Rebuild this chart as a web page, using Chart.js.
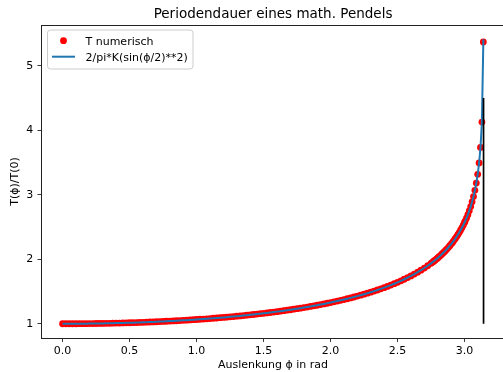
<!DOCTYPE html>
<html>
<head>
<meta charset="utf-8">
<script src="https://cdn.jsdelivr.net/npm/chart.js@4/dist/chart.umd.min.js"></script>
<style>
  html, body { margin: 0; padding: 0; overflow: hidden; background: #fff; }
  canvas { display: block; }
</style>
</head>
<body>
<canvas id="pendel" width="508" height="372"></canvas>
<script>
// Auslenkung phi (rad) und T(phi)/T(0)
const phi = [
  0, 0.025, 0.05, 0.075, 0.1, 0.125, 0.15, 0.175,
  0.2, 0.225, 0.25, 0.275, 0.3, 0.325, 0.35, 0.375,
  0.4, 0.425, 0.45, 0.475, 0.5, 0.525, 0.55, 0.575,
  0.6, 0.625, 0.65, 0.675, 0.7, 0.725, 0.75, 0.775,
  0.8, 0.825, 0.85, 0.875, 0.9, 0.925, 0.95, 0.975,
  1.0, 1.025, 1.05, 1.075, 1.1, 1.125, 1.15, 1.175,
  1.2, 1.225, 1.25, 1.275, 1.3, 1.325, 1.35, 1.375,
  1.4, 1.425, 1.45, 1.475, 1.5, 1.525, 1.55, 1.575,
  1.6, 1.625, 1.65, 1.675, 1.7, 1.725, 1.75, 1.775,
  1.8, 1.825, 1.85, 1.875, 1.9, 1.925, 1.95, 1.975,
  2.0, 2.025, 2.05, 2.075, 2.1, 2.125, 2.15, 2.175,
  2.2, 2.225, 2.25, 2.275, 2.3, 2.325, 2.35, 2.375,
  2.4, 2.425, 2.45, 2.475, 2.5, 2.525, 2.55, 2.575,
  2.6, 2.625, 2.65, 2.675, 2.7, 2.725, 2.75,
  2.76, 2.77, 2.78, 2.79, 2.8, 2.81, 2.82, 2.83,
  2.84, 2.85, 2.86, 2.87, 2.88, 2.89, 2.9, 2.91,
  2.92, 2.93, 2.94, 2.95, 2.96, 2.97, 2.98, 2.99,
  3.0, 3.0037, 3.0142, 3.0247, 3.0351, 3.0456, 3.0561, 3.0666,
  3.0770, 3.0875, 3.0980, 3.1084, 3.1189, 3.1294, 3.1399
];
const tNumerisch = [
  1.0000, 1.0000, 1.0002, 1.0004, 1.0006, 1.0010, 1.0014, 1.0019,
  1.0025, 1.0032, 1.0039, 1.0047, 1.0057, 1.0066, 1.0077, 1.0089,
  1.0101, 1.0114, 1.0128, 1.0143, 1.0159, 1.0175, 1.0192, 1.0211,
  1.0230, 1.0250, 1.0271, 1.0292, 1.0315, 1.0339, 1.0363, 1.0389,
  1.0415, 1.0443, 1.0471, 1.0501, 1.0531, 1.0563, 1.0595, 1.0629,
  1.0663, 1.0699, 1.0736, 1.0774, 1.0813, 1.0854, 1.0895, 1.0938,
  1.0982, 1.1028, 1.1074, 1.1122, 1.1171, 1.1222, 1.1274, 1.1328,
  1.1383, 1.1440, 1.1498, 1.1558, 1.1620, 1.1683, 1.1748, 1.1815,
  1.1883, 1.1954, 1.2027, 1.2101, 1.2178, 1.2257, 1.2338, 1.2421,
  1.2507, 1.2595, 1.2686, 1.2779, 1.2875, 1.2974, 1.3076, 1.3181,
  1.3289, 1.3401, 1.3516, 1.3635, 1.3757, 1.3883, 1.4014, 1.4149,
  1.4288, 1.4433, 1.4582, 1.4737, 1.4897, 1.5064, 1.5236, 1.5416,
  1.5602, 1.5797, 1.5999, 1.6210, 1.6430, 1.6661, 1.6903, 1.7156,
  1.7422, 1.7703, 1.7999, 1.8312, 1.8643, 1.8996, 1.9373,
  1.9531, 1.9693, 1.9859, 2.0031, 2.0208, 2.0391, 2.0580, 2.0776,
  2.0978, 2.1186, 2.1402, 2.1627, 2.1860, 2.2102, 2.2355, 2.2619,
  2.2895, 2.3184, 2.3488, 2.3807, 2.4144, 2.4500, 2.4879, 2.5282,
  2.5712, 2.588, 2.638, 2.692, 2.752, 2.817, 2.891, 2.973,
  3.069, 3.181, 3.318, 3.493, 3.734, 4.128, 5.369
];
// letzter Punkt der analytischen Kurve
const kurveEnde = [3.1401, 5.41];
// senkrechte Linie bei pi
const senkrechteX = 3.1416;
const senkrechteY = [1, 4.5];

const xTicks = [0, 0.5, 1.0, 1.5, 2.0, 2.5, 3.0];
const yTicks = [1, 2, 3, 4, 5];
const xRange = [-0.1571, 3.2987];
const yRange = [0.7794, 5.6326];

const FONT = '"DejaVu Sans", sans-serif';
const TITEL = 'Periodendauer eines math. Pendels';
const LABEL_NUM = 'T numerisch';
const LABEL_K = '2/pi*K(sin(ϕ/2)**2)';

const punkte = phi.map((x, i) => ({ x: x, y: tNumerisch[i] }));

// Titel, obere/rechte Achsenlinie und Legende wie in matplotlib
const rahmenUndLegende = {
  id: 'rahmenUndLegende',
  afterDraw(chart) {
    const ctx = chart.ctx;
    const a = chart.chartArea;
    ctx.save();

    ctx.strokeStyle = '#222';
    ctx.lineWidth = 1;
    ctx.beginPath();
    ctx.moveTo(a.left, Math.round(a.top) + 0.5);
    ctx.lineTo(a.right, Math.round(a.top) + 0.5);
    ctx.moveTo(Math.round(a.right) - 0.5, a.top);
    ctx.lineTo(Math.round(a.right) - 0.5, a.bottom);
    ctx.stroke();

    ctx.fillStyle = '#000';
    ctx.font = '13.5px ' + FONT;
    ctx.textAlign = 'center';
    ctx.textBaseline = 'alphabetic';
    ctx.fillText(TITEL, (a.left + a.right) / 2, 18);

    // Legende
    const lx = a.left + 6, ly = a.top + 5, lw = 145.5, lh = 39, r = 3;
    ctx.beginPath();
    ctx.moveTo(lx + r, ly);
    ctx.lineTo(lx + lw - r, ly);
    ctx.arcTo(lx + lw, ly, lx + lw, ly + r, r);
    ctx.lineTo(lx + lw, ly + lh - r);
    ctx.arcTo(lx + lw, ly + lh, lx + lw - r, ly + lh, r);
    ctx.lineTo(lx + r, ly + lh);
    ctx.arcTo(lx, ly + lh, lx, ly + lh - r, r);
    ctx.lineTo(lx, ly + r);
    ctx.arcTo(lx, ly, lx + r, ly, r);
    ctx.closePath();
    ctx.fillStyle = 'rgba(255,255,255,0.8)';
    ctx.fill();
    ctx.strokeStyle = '#cccccc';
    ctx.lineWidth = 1;
    ctx.stroke();

    ctx.fillStyle = '#ff0000';
    ctx.beginPath();
    ctx.arc(lx + 16, ly + 10.7, 3.4, 0, Math.PI * 2);
    ctx.fill();

    ctx.strokeStyle = '#1f77b4';
    ctx.lineWidth = 2;
    ctx.beginPath();
    ctx.moveTo(lx + 4.5, ly + 26.7);
    ctx.lineTo(lx + 27.5, ly + 26.7);
    ctx.stroke();

    ctx.fillStyle = '#000';
    ctx.font = '11px ' + FONT;
    ctx.textAlign = 'left';
    ctx.fillText(LABEL_NUM, lx + 38, ly + 14.5);
    ctx.fillText(LABEL_K, lx + 38, ly + 31);

    ctx.restore();
  }
};

new Chart(document.getElementById('pendel'), {
  type: 'scatter',
  data: {
    datasets: [
      {
        label: LABEL_NUM,
        data: punkte,
        showLine: false,
        pointRadius: 3.4,
        pointHoverRadius: 3.4,
        pointBackgroundColor: '#ff0000',
        pointBorderWidth: 0,
        order: 3
      },
      {
        label: LABEL_K,
        data: punkte.concat([{ x: kurveEnde[0], y: kurveEnde[1] }]),
        showLine: true,
        borderColor: '#1f77b4',
        borderWidth: 2,
        pointRadius: 0,
        tension: 0,
        order: 2
      },
      {
        label: 'pi',
        data: senkrechteY.map(y => ({ x: senkrechteX, y: y })),
        showLine: true,
        borderColor: '#000',
        borderWidth: 1.7,
        pointRadius: 0,
        order: 1
      }
    ]
  },
  options: {
    responsive: false,
    animation: false,
    devicePixelRatio: 1,
    layout: { padding: { top: 25, right: 1, bottom: 0, left: 0 } },
    plugins: {
      legend: { display: false },
      title: { display: false },
      tooltip: { enabled: false }
    },
    scales: {
      x: {
        type: 'linear',
        min: xRange[0],
        max: xRange[1],
        afterBuildTicks: s => { s.ticks = xTicks.map(v => ({ value: v })); },
        afterFit: s => { s.height = 34; },
        ticks: {
          callback: v => v.toFixed(1),
          color: '#000',
          font: { family: FONT, size: 11 },
          padding: 3,
          maxRotation: 0,
          autoSkip: false
        },
        grid: { drawOnChartArea: false, tickLength: 4, tickColor: '#222', tickWidth: 0.9 },
        border: { color: '#222', width: 1 },
        title: {
          display: true,
          text: 'Auslenkung ϕ in rad',
          color: '#000',
          font: { family: FONT, size: 11 },
          padding: { top: 0, bottom: 0 }
        }
      },
      y: {
        type: 'linear',
        min: yRange[0],
        max: yRange[1],
        afterBuildTicks: s => { s.ticks = yTicks.map(v => ({ value: v })); },
        afterFit: s => { s.width = 41.5; },
        ticks: {
          callback: v => String(v),
          color: '#000',
          font: { family: FONT, size: 11 },
          padding: 4.3,
          autoSkip: false
        },
        grid: { drawOnChartArea: false, tickLength: 4, tickColor: '#222', tickWidth: 0.9 },
        border: { color: '#222', width: 1 },
        title: {
          display: true,
          text: 'T(ϕ)/T(0)',
          color: '#000',
          font: { family: FONT, size: 11 },
          padding: { top: 9, bottom: 0 }
        }
      }
    }
  },
  plugins: [rahmenUndLegende]
});
</script>
</body>
</html>
